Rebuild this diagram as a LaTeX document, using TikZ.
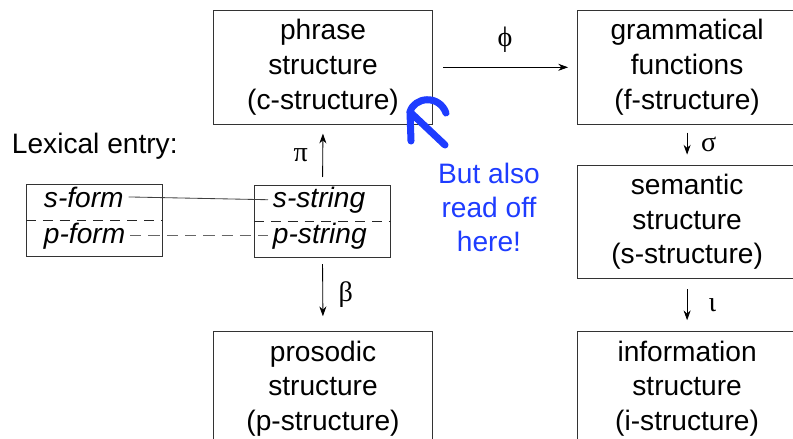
\documentclass[tikz,border=0pt]{standalone}
\usepackage{fontspec}
\setmainfont{Liberation Sans}
\newfontfamily\greekserif{Liberation Serif}
\usetikzlibrary{positioning,arrows.meta}

\definecolor{penblue}{RGB}{30,60,255}
\newcommand{\boxfont}{\fontsize{20pt}{24.6pt}\selectfont}

\begin{document}
\begin{tikzpicture}[
    x=0.025cm, y=-0.025cm,
    font=\boxfont,
    >={Stealth[length=7pt,width=5pt]},
    struct/.style={
        draw=black!80,
        line width=0.7pt,
        align=center,
        inner sep=0pt,
        minimum width=5.475cm,
        minimum height=2.84cm
    },
    lexbox/.style={
        draw=black!80,
        line width=0.7pt,
        minimum width=3.4cm,
        minimum height=1.8cm
    },
    lexsplit/.style={
        black!85,
        line width=0.7pt,
        dash pattern=on 7pt off 5pt
    },
    lexitem/.style={
        font=\boxfont\itshape,
        anchor=base west
    },
    proj/.style={
        ->,
        line width=0.6pt
    },
    greek/.style={
        font=\boxfont\greekserif
    },
    pen/.style={
        penblue,
        line width=5pt,
        line cap=round,
        line join=round
    }
]

\useasboundingbox (0,0) rectangle (793,439);
\clip (0,0) rectangle (793,439);

% Structures and their projections
\node[struct, anchor=north west] (phrase) at (213,10) {phrase\\structure\\(c-structure)};
\node[struct, right=3.6cm of phrase] (gramm) {grammatical\\functions\\(f-structure)};
\node[struct, below=1cm of gramm] (sem) {semantic\\structure\\(s-structure)};
\node[struct, below=1.3cm of sem] (info) {information\\structure\\(i-structure)};
\node[struct] (pros) at (phrase |- info) {prosodic\\structure\\(p-structure)};

% Lexical entry
\node[anchor=base west] (lexlabel) at (7,154) {Lexical entry:};
\node[lexbox, anchor=north west] (lexform) at (26,184) {};
\node[lexbox, anchor=north] (lexstring) at (322.5,185) {};
\draw[lexsplit] (lexform.west) -- (lexform.east);
\draw[lexsplit] (lexstring.west) -- (lexstring.east);

\node[lexitem] (sform) at (39,207) {s-form};
\node[lexitem] (pform) at (39,243) {p-form};
\node[lexitem] (sstring) at (268,207) {s-string};
\node[lexitem] (pstring) at (268,243) {p-string};

\draw[black!75, line width=0.6pt] (sform.east) -- (sstring.west);
\draw[black!60, line width=0.6pt, dash pattern=on 8pt off 5pt] (pform.east) -- (pstring.west);

% Mappings
\draw[proj, shorten <=0.25cm, shorten >=0.225cm] (phrase.east) -- node[greek, yshift=0.7cm] {ϕ} (gramm.west);
\draw[proj, shorten <=0.2cm, shorten >=0.225cm] (lexstring.north) -- node[greek, xshift=-0.55cm] {π} (phrase.south);
\draw[proj, shorten <=0.15cm, shorten >=0.375cm] (lexstring.south) -- node[greek, xshift=0.575cm] {β} (pros.north);
\draw[proj, shorten <=0.2cm, shorten >=0.25cm] (gramm.south) -- node[greek, xshift=0.54cm] {σ} (sem.north);
\draw[proj, shorten <=0.25cm, shorten >=0.275cm] (sem.south) -- node[greek, xshift=0.63cm] {ι} (info.north);

% Hand-drawn remark
\node[text=penblue, align=center, font=\fontsize{20pt}{24.2pt}\selectfont] (remark) at (489,207) {But also\\read off\\here!};
\coordinate (hooktip) at (410,112);
\coordinate (hooktail) at (445,145);
\coordinate (hookleg) at (411,141);
\coordinate (hookcurl) at (446,113);
\draw[pen] (hooktail) -- (hooktip);
\draw[pen] (hookleg) -- (hooktip) .. controls (414,97) and (439,94) .. (hookcurl);

\end{tikzpicture}
\end{document}
